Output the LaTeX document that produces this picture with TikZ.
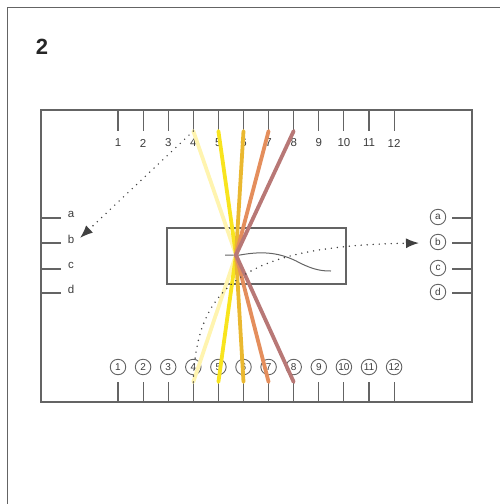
\documentclass[tikz,border=0pt]{standalone}
\usepackage{fontspec}
\setmainfont{Liberation Sans}
\usetikzlibrary{arrows.meta}
\definecolor{paleyellow}{RGB}{255,244,175}
\definecolor{lemon}{RGB}{248,228,30}
\definecolor{gold}{RGB}{234,184,48}
\definecolor{apricot}{RGB}{228,142,92}
\definecolor{rosewood}{RGB}{184,120,118}
\definecolor{frame}{RGB}{100,100,100}
\definecolor{ink}{RGB}{60,60,60}
\tikzset{%
    tick/.style={draw=frame,line width=1.1pt},
    ray/.style={line width=3.8pt,line cap=round},
    dots/.style={black!75,line width=1.6pt,line cap=round,dash pattern=on 0pt off 6pt,
        -{Latex[length=13pt,width=10pt]}},
    numtext/.style={text=ink,font=\fontsize{11.5}{13}\selectfont,inner sep=0pt},
    circled/.style={circle,draw=frame,line width=0.9pt,inner sep=0pt,minimum size=15.5pt,
        text=ink,font=\fontsize{10}{10}\selectfont}
}
\begin{document}
\begin{tikzpicture}[x=1pt,y=-1pt]
    \useasboundingbox (0,0) rectangle (500,504);
    \draw[frame,line width=1pt] (7,504) -- (7,7) -- (500,7);
    \node[font=\fontsize{22}{26}\selectfont\bfseries,text=black!85] (title) at (42,47) {2};
    % board
    \draw[frame,line width=1.4pt] (41,110) rectangle (472,402);
    \draw[frame,line width=1.4pt] (167,228) rectangle (346,284);
    \foreach \i in {1,...,12} {
        \draw[tick] (92.9+25.1*\i,110) -- (92.9+25.1*\i,131) coordinate (tt\i);
        \node[numtext] (t\i) at (92.9+25.1*\i,143) {\i};
        \draw[tick] (92.9+25.1*\i,402) -- (92.9+25.1*\i,382) coordinate (bt\i);
        \node[circled] (b\i) at (92.9+25.1*\i,367) {\i};
    }
    \foreach \l/\y in {a/218,b/243,c/269,d/293} {
        \draw[tick] (41,\y) -- (61,\y);
        \node[numtext] (l\l) at (71,\y-4) {\l};
        \draw[tick] (452,\y) -- (472,\y);
        \node[circled] (r\l) at (438,\y-1) {\l};
    }
    % beams
    \coordinate (focus) at (236,255);
    \draw[frame,line width=1pt] (225,255) -- (240,255)
        .. controls (262,251) and (280,252) .. (300,263)
        .. controls (314,270) and (322,271) .. (331,271);
    \draw[ray,paleyellow] (tt4) -- (focus) -- (bt4);
    \draw[ray,lemon] (tt5) -- (focus) -- (bt5);
    \draw[ray,gold] (tt6) -- (focus) -- (bt6);
    \draw[ray,apricot] (tt7) -- (focus) -- (bt7);
    \draw[ray,rosewood] (tt8) -- (focus) -- (bt8);
    % dotted paths
    \coordinate (lb) at (80,238);
    \coordinate (rb) at (419,243);
    \draw[dots] (tt4) -- (lb);
    \draw[dots] (bt4) .. controls (196,282) and (250,246) .. (rb);
\end{tikzpicture}
\end{document}
